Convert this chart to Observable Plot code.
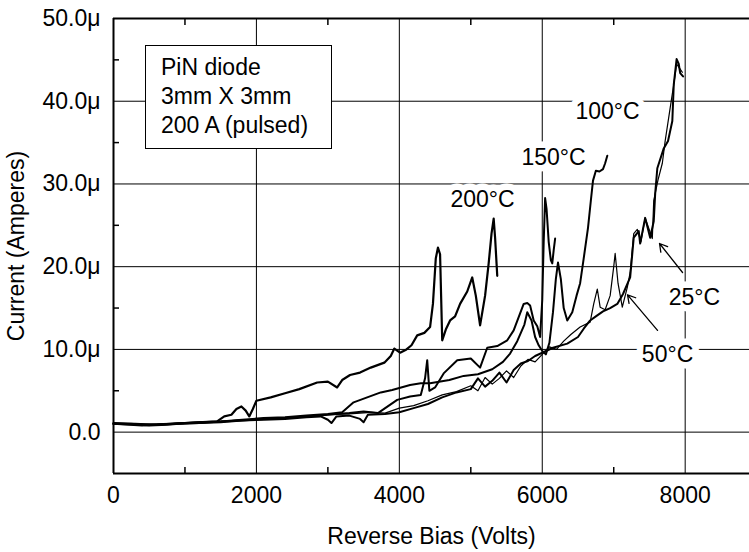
<!DOCTYPE html>
<html><head><meta charset="utf-8">
<script src="https://cdn.jsdelivr.net/npm/d3@7"></script>
<script src="https://cdn.jsdelivr.net/npm/@observablehq/plot@0.6"></script>
<style>
body{margin:0;background:#fff;}
#wrap{position:relative;width:749px;height:552px;overflow:hidden;}
#box{position:absolute;left:145px;top:45px;width:187px;height:104px;box-sizing:border-box;border:1.5px solid #000;background:#fff;
 padding:7px 0 0 15px;font-family:"Liberation Sans",Arial,sans-serif;font-size:23px;line-height:29px;color:#000;white-space:nowrap;}
</style></head>
<body><div id="wrap"><div id="chart"></div><div id="box">PiN diode<br>3mm X 3mm<br>200 A (pulsed)</div></div>
<script>
// Reverse bias (V) and current (µA) per temperature
const v200 = [0,250,500,750,1000,1250,1450,1550,1650,1720,1790,1850,1900,1950,2000,2200,2400,2600,2850,3000,3130,3200,3310,3450,3600,3790,3880,3930,4010,4100,4170,4250,4350,4430,4470,4510,4540,4570,4600,4650,4710,4780,4850,4950,5020,5070,5130,5200,5250,5290,5320,5340,5370];
const i200 = [1.1,1.0,0.8,0.9,1.1,1.2,1.3,1.9,2.1,2.8,3.1,2.6,1.9,2.8,3.8,4.2,4.7,5.2,6.0,6.1,5.4,6.3,6.9,7.2,7.8,8.4,9.2,10.1,9.6,10.0,10.5,11.7,12.0,12.7,15.5,21.0,22.3,21.5,11.1,12.4,13.5,14.0,15.5,17.0,18.7,16.5,12.9,16.5,20.4,24.0,25.8,23.5,18.9];
const v150 = [0,400,800,1200,1500,1800,2100,2400,2700,3000,3300,3500,3700,3970,4150,4300,4360,4390,4420,4500,4620,4810,5000,5130,5230,5370,5510,5600,5740,5790,5830,5880,5930,5970,6000,6020,6040,6060,6090,6120,6140,6160,6180];
const i150 = [1.0,0.9,1.0,1.1,1.3,1.4,1.6,1.7,1.9,2.1,2.3,2.5,2.3,3.9,4.3,4.5,6.5,8.7,5.0,5.4,7.1,8.7,8.9,7.8,10.2,10.4,11.1,12.3,15.5,15.6,15.3,13.5,12.8,11.5,16.0,23.0,28.3,27.0,23.0,20.8,20.4,22.0,23.4];
const v100 = [0,400,800,1200,1500,1800,2100,2400,2700,3000,3200,3360,3550,3740,3900,4150,4300,4430,4700,4900,5100,5300,5450,5550,5650,5750,5790,5850,5900,5950,6000,6050,6100,6150,6190,6220,6260,6300,6350,6420,6480,6530,6580,6640,6680,6710,6750,6800,6850,6880,6910];
const i100 = [1.0,0.8,1.0,1.2,1.3,1.5,1.7,1.8,2.0,2.2,2.4,3.6,4.2,4.8,5.1,5.7,5.9,5.9,6.3,6.8,7.0,7.6,8.5,9.5,11.0,13.0,14.5,13.5,11.5,10.5,9.8,9.4,10.8,14.5,18.5,20.5,18.5,15.0,13.5,14.5,16.5,18.0,21.0,24.7,28.0,30.4,31.6,31.5,31.8,32.5,33.4];
const v25 = [0,300,600,900,1200,1500,1800,2100,2400,2700,2900,3000,3050,3120,3300,3450,3500,3560,3800,4000,4200,4400,4600,4800,5000,5100,5200,5300,5400,5500,5600,5700,5800,5900,6000,6150,6350,6500,6580,6670,6750,6850,6950,7050,7130,7230,7280,7350,7370,7440,7510,7560,7580,7610,7700,7760,7820,7840,7880,7910,7930,7970];
const i25 = [1.0,1.0,0.9,1.0,1.1,1.2,1.4,1.5,1.6,1.8,1.9,1.5,1.1,1.9,2.0,1.6,1.2,2.1,2.2,2.4,2.9,3.4,4.2,4.8,5.2,6.5,5.5,6.2,7.2,6.0,7.5,8.3,8.6,9.2,9.6,10.2,10.7,11.5,12.5,13.5,14.0,14.6,15.0,15.5,16.7,18.7,23.5,24.3,22.8,25.9,23.5,25.5,28.8,31.9,34.3,35.2,37.6,42.0,45.1,44.5,43.4,43.0];
const v50 = [0,300,600,900,1200,1500,1800,2100,2400,2700,3000,3300,3600,3800,4000,4200,4400,4600,4800,5000,5100,5200,5300,5400,5500,5600,5700,5800,5900,6000,6100,6200,6300,6400,6530,6670,6720,6770,6810,6880,6950,7000,7020,7060,7120,7190,7230,7280,7330,7380,7440,7540,7560,7620,7680,7720,7790,7840,7880,7920,7960];
const i50 = [1.1,1.0,0.9,1.1,1.2,1.3,1.5,1.6,1.7,1.9,2.1,2.2,2.4,2.3,2.9,3.2,3.8,4.5,4.9,5.6,5.0,6.6,5.8,6.5,7.4,6.6,8.0,8.8,8.5,9.4,10.3,10.0,11.0,11.8,12.7,13.3,15.5,17.3,15.1,14.8,16.5,20.0,21.6,18.0,15.1,17.5,19.3,24.0,24.5,23.0,25.9,23.4,28.0,30.5,32.5,35.2,39.2,42.0,44.5,44.0,43.5];

const xTicks = [0,2000,4000,6000,8000];
const xGrid = [2000,4000,6000,8000];
const xMinor = [1000,3000,5000,7000];
const yTicks = [0,10,20,30,40,50];
const yGrid = [0,10,20,30,40];
const yMinor = [5,15,25,35,45];
const xDomain = [0,8900];
const yDomain = [-5,50];

// temperature labels and arrows (data coordinates)
const labels = [
  {t:"200°C", x:5164, y:28.1},
  {t:"150°C", x:6157, y:33.2},
  {t:"100°C", x:6913, y:38.7},
  {t:"25°C",  x:8130, y:16.2},
  {t:"50°C",  x:7753, y:9.4}
];
const arrows = [
  {x1:7963, y1:19.3, x2:7641, y2:22.8},
  {x1:7613, y1:12.3, x2:7193, y2:16.6}
];

const toRows = (v, i) => v.map((d, k) => ({v: d, i: i[k]}));
const series = [
  {rows: toRows(v200, i200), w: 2.2},
  {rows: toRows(v150, i150), w: 2.0},
  {rows: toRows(v100, i100), w: 2.0},
  {rows: toRows(v25, i25), w: 2.0},
  {rows: toRows(v50, i50), w: 1.2}
];

const fmtY = d => d === 0 ? "0.0" : d.toFixed(1) + "μ";
const fmtX = d => String(d);
const font = '"Liberation Sans", Arial, sans-serif';

const chart = Plot.plot({
  width: 749, height: 552,
  marginLeft: 113, marginRight: 0, marginTop: 18, marginBottom: 79,
  style: {fontFamily: font, fontSize: "23px", color: "black", background: "white"},
  x: {domain: xDomain},
  y: {domain: yDomain},
  marks: [
    Plot.gridX(xGrid, {stroke: "black", strokeOpacity: 1, strokeWidth: 1}),
    Plot.gridY(yGrid, {stroke: "black", strokeOpacity: 1, strokeWidth: 1}),
    Plot.text(labels, {x: "x", y: "y", text: "t", fontSize: 23, fill: "black", stroke: "white", strokeWidth: 13}),
    Plot.arrow(arrows, {x1: "x1", y1: "y1", x2: "x2", y2: "y2", stroke: "black", strokeWidth: 1.3, headLength: 10, bend: 0}),
    ...series.map(s => Plot.line(s.rows, {x: "v", y: "i", stroke: "black", strokeWidth: s.w, strokeLinejoin: "round"})),
    Plot.axisX(xTicks, {tickSize: 0, tickPadding: 13, fontSize: 23, tickFormat: fmtX, label: "Reverse Bias (Volts)", labelAnchor: "center", labelArrow: "none", labelOffset: 70}),
    Plot.axisX(xMinor, {tickSize: -6, strokeWidth: 1.5, text: null, label: null}),
    Plot.axisX(xMinor, {anchor: "top", tickSize: -6, strokeWidth: 1.5, text: null, label: null}),
    Plot.axisY(yTicks, {tickSize: 0, tickPadding: 13, fontSize: 23, tickFormat: fmtY, label: "Current (Amperes)", labelAnchor: "center", labelArrow: "none", labelOffset: 106}),
    Plot.axisY(yMinor, {tickSize: -6, strokeWidth: 1.5, text: null, label: null}),
    Plot.ruleY([yDomain[1]], {stroke: "black", strokeWidth: 2}),
    Plot.ruleY([yDomain[0]], {stroke: "black", strokeWidth: 2}),
    Plot.ruleX([xDomain[0]], {stroke: "black", strokeWidth: 2})
  ]
});
document.getElementById("chart").appendChild(chart);
</script>
</body></html>
